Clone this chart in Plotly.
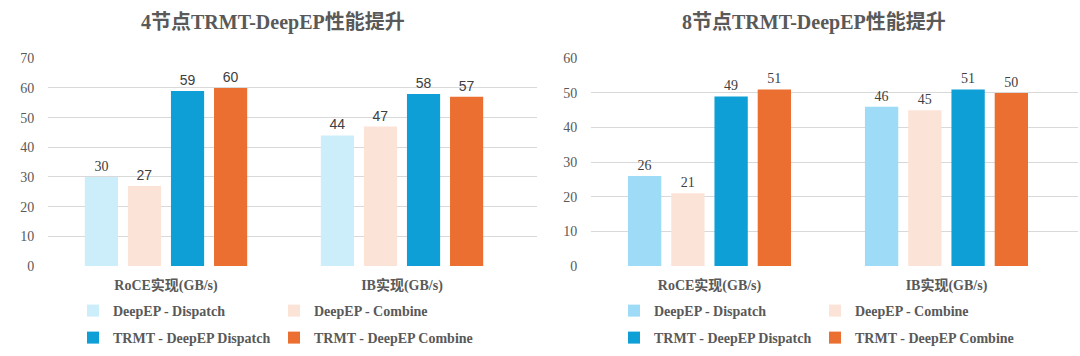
import plotly.graph_objects as go

categories = ["RoCE实现(GB/s)", "IB实现(GB/s)"]
series_names = ["DeepEP - Dispatch", "DeepEP - Combine",
                "TRMT - DeepEP Dispatch", "TRMT - DeepEP Combine"]

# 4-node panel values
node4_dispatch = [30, 44]
node4_combine = [27, 47]
node4_trmt_dispatch = [59, 58]
node4_trmt_combine = [60, 57]

# 8-node panel values
node8_dispatch = [26, 46]
node8_combine = [21, 45]
node8_trmt_dispatch = [49, 51]
node8_trmt_combine = [51, 50]

titles = ["4节点TRMT-DeepEP性能提升", "8节点TRMT-DeepEP性能提升"]
y_ticks_4 = [0, 10, 20, 30, 40, 50, 60, 70]
y_ticks_8 = [0, 10, 20, 30, 40, 50, 60]

colors_4 = ["#CBEEFA", "#FCE3D7", "#0E9FD7", "#EB6F30"]
colors_8 = ["#9DDBF6", "#FCE3D7", "#0E9FD7", "#EB6F30"]

W, H = 1080, 356
SERIF = "Liberation Serif, Noto Sans CJK SC"
SANS = "Liberation Sans, Noto Sans CJK SC"
GRAY = "#595959"

fig = go.Figure()

panels = [
    dict(vals=[node4_dispatch, node4_combine, node4_trmt_dispatch, node4_trmt_combine],
         colors=colors_4, xa="x", ya="y", legends=["legend", "legend", "legend2", "legend2"],
         fonts=[[SERIF, SANS], [SANS, SANS], [SANS, SANS], [SANS, SANS]]),
    dict(vals=[node8_dispatch, node8_combine, node8_trmt_dispatch, node8_trmt_combine],
         colors=colors_8, xa="x2", ya="y2", legends=["legend3", "legend3", "legend4", "legend4"],
         fonts=[[SERIF, SERIF]] * 4),
]

for p in panels:
    for i, name in enumerate(series_names):
        fig.add_trace(go.Bar(
            x=[0, 1], y=p["vals"][i], name=name,
            marker=dict(color=p["colors"][i], line=dict(width=0)),
            text=p["vals"][i], textposition="outside",
            textfont=dict(family=p["fonts"][i], size=14, color="#404040"),
            cliponaxis=False,
            xaxis=p["xa"], yaxis=p["ya"], legend=p["legends"][i],
            hoverinfo="skip",
        ))

def px_x(v):
    return v / W

def px_y(v):
    return (H - v) / H

ydom = [px_y(266), px_y(58.3)]

axis_common_x = dict(
    tickmode="array", tickvals=[0, 1], ticktext=categories,
    tickfont=dict(family=SERIF, size=14, color=GRAY, weight="bold"),
    showgrid=False, zeroline=False, showline=False,
    ticks="outside", ticklen=6, tickcolor="rgba(0,0,0,0)",
    fixedrange=True, automargin=False,
)
axis_common_y = dict(
    tickfont=dict(family=SERIF, size=14, color=GRAY),
    showgrid=True, gridcolor="#D9D9D9", gridwidth=1,
    zeroline=False, showline=False,
    ticks="outside", ticklen=10, tickcolor="rgba(0,0,0,0)",
    fixedrange=True, automargin=False,
)

fig.update_layout(
    width=W, height=H,
    margin=dict(l=0, r=0, t=0, b=0, pad=0, autoexpand=False),
    paper_bgcolor="white", plot_bgcolor="white",
    barmode="group", bargap=0.27, bargroupgap=0.23,
    xaxis=dict(domain=[px_x(48), px_x(537)], range=[-0.5, 1.572], anchor="y", **axis_common_x),
    yaxis=dict(domain=ydom, range=[0, 70], tickvals=y_ticks_4, anchor="x", **axis_common_y),
    xaxis2=dict(domain=[px_x(591), px_x(1078)], range=[-0.5, 1.555], anchor="y2", **axis_common_x),
    yaxis2=dict(domain=ydom, range=[0, 60], tickvals=y_ticks_8, anchor="x2", **axis_common_y),
    showlegend=True,
)

legend_font = dict(family=SERIF, size=14, color=GRAY, weight="bold")
leg_common = dict(orientation="h", entrywidth=156, entrywidthmode="pixels",
                  font=legend_font, bgcolor="rgba(0,0,0,0)", yanchor="middle",
                  xanchor="left", itemclick=False, itemdoubleclick=False,
                  traceorder="normal")
fig.update_layout(
    legend=dict(x=px_x(73), y=px_y(311), **leg_common),
    legend2=dict(x=px_x(73), y=px_y(338), **leg_common),
    legend3=dict(x=px_x(614), y=px_y(311), **leg_common),
    legend4=dict(x=px_x(614), y=px_y(338), **leg_common),
)

for t, cx in zip(titles, [273, 814]):
    fig.add_annotation(
        text=t, x=px_x(cx), y=px_y(22), xref="paper", yref="paper",
        xanchor="center", yanchor="middle", showarrow=False,
        font=dict(family=SERIF, size=20, color=GRAY, weight="bold"),
    )

fig.write_html(
    "out.html",
    config={"displayModeBar": False},
    post_script="document.body.style.margin='0';document.body.style.overflow='hidden';",
)
